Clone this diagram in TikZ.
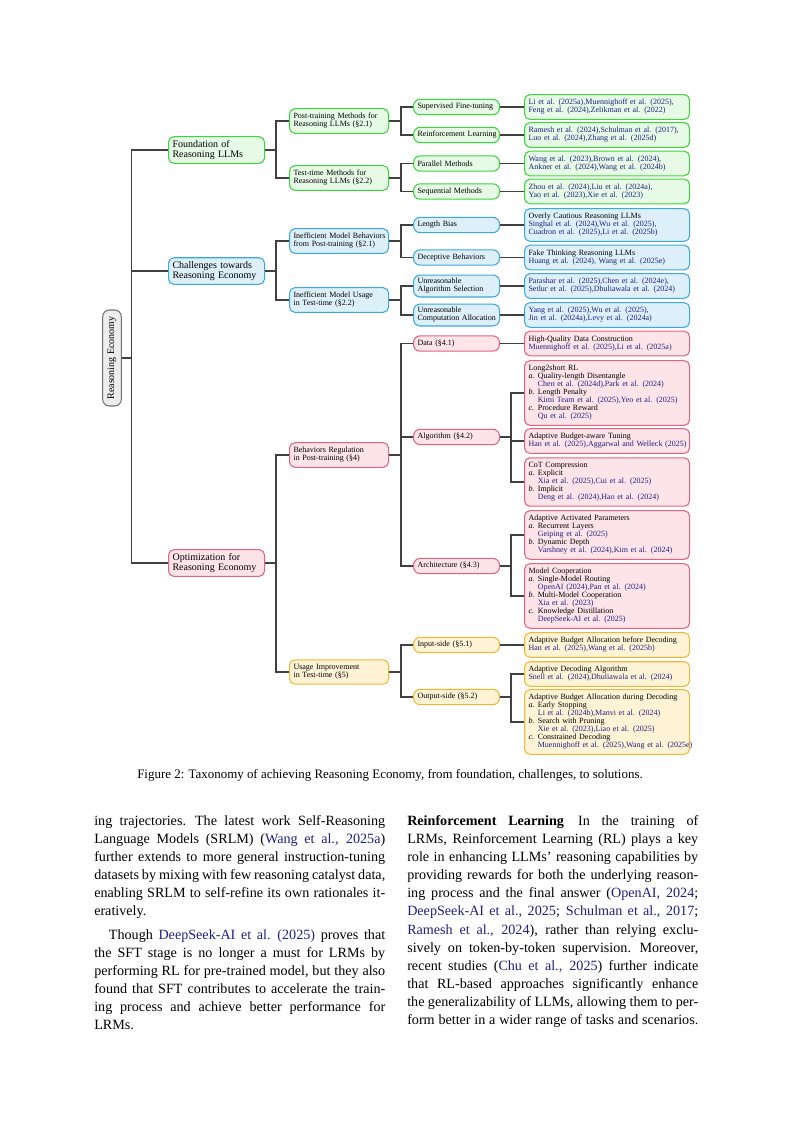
\documentclass[tikz,border=0pt]{standalone}
\usepackage{fontspec}
\setmainfont{Liberation Serif}

\definecolor{grnline}{HTML}{3CD63C}
\definecolor{grnfill}{HTML}{E6FAE6}
\definecolor{bluline}{HTML}{3BA9DE}
\definecolor{blufill}{HTML}{DDF0FA}
\definecolor{redline}{HTML}{E2637F}
\definecolor{redfill}{HTML}{FDE4E9}
\definecolor{ylwline}{HTML}{F2B632}
\definecolor{ylwfill}{HTML}{FFF3D6}
\definecolor{rootline}{HTML}{707070}
\definecolor{rootfill}{HTML}{EDEDED}
\definecolor{linkgray}{HTML}{404040}
\definecolor{citeblue}{HTML}{1F1F80}

\newcommand{\refc}[1]{\textcolor{citeblue}{#1}}
\newcommand{\subit}[2]{\makebox[7pt][l]{\textit{#1.}}#2}
\newcommand{\subin}{\hspace*{7pt}}
\newlength{\colw}\setlength{\colw}{218.25pt}
% justified line of body text (node align=left fixes the spaces, so reset them here)
\newcommand{\jline}[1]{\makebox[\colw][s]{\spaceskip=0.25em plus 0.2em minus 0.12em\xspaceskip=0.3em plus 0.25em minus 0.1em #1}}

\begin{document}
\begin{tikzpicture}[x=0.75pt, y=-0.75pt,
    box/.style={draw, rounded corners=4pt, line width=0.8pt, anchor=west, inner xsep=3pt, align=left},
    lvlone/.style={box, text width=66pt, inner ysep=2.8pt, font=\fontsize{7.5}{7.5}\selectfont},
    lvltwo/.style={box, text width=68.25pt, inner ysep=3.5pt, font=\fontsize{6}{6}\selectfont},
    lvlthree/.style={box, rounded corners=5pt, text width=58.5pt, inner ysep=2.5pt, minimum height=11.5pt, font=\fontsize{6}{6}\selectfont},
    leaf/.style={box, text width=117.75pt, inner ysep=3.5pt, font=\fontsize{6}{6}\selectfont},
    grn/.style={draw=grnline, fill=grnfill},
    blu/.style={draw=bluline, fill=blufill},
    red/.style={draw=redline, fill=redfill},
    ylw/.style={draw=ylwline, fill=ylwfill},
    link/.style={draw=linkgray, line width=0.9pt},
    para/.style={anchor=north west, inner sep=0pt, align=left, text width=\colw, font=\fontsize{10.6}{13.6}\selectfont},
]
    \path[fill=white, use as bounding box] (0,0) rectangle (793,1122);

    % root
    \node[draw=rootline, fill=rootfill, line width=0.8pt, rotate=90, rounded corners=5pt,
          minimum width=72pt, minimum height=14pt, inner sep=0pt,
          font=\fontsize{7.5}{7.5}\selectfont] (root) at (112,358) {Reasoning Economy};

    % first level
    \node[lvlone, grn] (found) at (168,150) {Foundation of\\Reasoning LLMs};
    \node[lvlone, blu] (chall) at (168,271) {Challenges towards\\Reasoning Economy};
    \node[lvlone, red] (optim) at (168,563) {Optimization for\\Reasoning Economy};

    % second level
    \node[lvltwo, grn] (post) at (289,121) {Post-training Methods for\\Reasoning LLMs (\S2.1)};
    \node[lvltwo, grn] (test) at (289,178) {Test-time Methods for\\Reasoning LLMs (\S2.2)};
    \node[lvltwo, blu] (ineffb) at (289,241) {\mbox{Inefficient Model Behaviors}\\from Post-training (\S2.1)};
    \node[lvltwo, blu] (ineffu) at (289,300) {Inefficient Model Usage\\in Test-time (\S2.2)};
    \node[lvltwo, red] (behav) at (289,455) {Behaviors Regulation\\in Post-training (\S4)};
    \node[lvltwo, ylw] (usage) at (289,672) {Usage Improvement\\in Test-time (\S5)};

    % third level
    \node[lvlthree, grn] (sft) at (413,107) {Supervised Fine-tuning};
    \node[lvlthree, grn] (rl) at (413,135) {\mbox{Reinforcement Learning}};
    \node[lvlthree, grn] (par) at (413,163.5) {Parallel Methods};
    \node[lvlthree, grn] (seq) at (413,191.5) {Sequential Methods};
    \node[lvlthree, blu] (lenb) at (413,225) {Length Bias};
    \node[lvlthree, blu] (decep) at (413,257.5) {Deceptive Behaviors};
    \node[lvlthree, blu] (algsel) at (413,286) {Unreasonable\\Algorithm Selection};
    \node[lvlthree, blu] (comp) at (413,315) {Unreasonable\\\mbox{Computation Allocation}};
    \node[lvlthree, red] (data) at (413,343.5) {Data (\S4.1)};
    \node[lvlthree, red] (algo) at (413,437) {Algorithm (\S4.2)};
    \node[lvlthree, red] (arch) at (413,566) {Architecture (\S4.3)};
    \node[lvlthree, ylw] (input) at (413,645) {Input-side (\S5.1)};
    \node[lvlthree, ylw] (output) at (413,697) {Output-side (\S5.2)};

    % leaves
    \node[leaf, grn] (lsft) at (524,107) {\refc{Li et al. (2025a),Muennighoff et al. (2025),}\\\refc{Feng et al. (2024),Zelikman et al. (2022)}};
    \node[leaf, grn] (lrl) at (524,135) {\refc{Ramesh et al. (2024),Schulman et al. (2017),}\\\refc{Luo et al. (2024),Zhang et al. (2025d)}};
    \node[leaf, grn] (lpar) at (524,163.5) {\refc{Wang et al. (2023),Brown et al. (2024),}\\\refc{Ankner et al. (2024),Wang et al. (2024b)}};
    \node[leaf, grn] (lseq) at (524,191.5) {\refc{Zhou et al. (2024),Liu et al. (2024a),}\\\refc{Yao et al. (2023),Xie et al. (2023)}};
    \node[leaf, blu] (llenb) at (524,225) {Overly Cautious Reasoning LLMs\\\refc{Singhal et al. (2024),Wu et al. (2025),}\\\refc{Cuadron et al. (2025),Li et al. (2025b)}};
    \node[leaf, blu] (ldecep) at (524,257.5) {Fake Thinking Reasoning LLMs\\\refc{Huang et al. (2024), Wang et al. (2025e)}};
    \node[leaf, blu] (lalgsel) at (524,286) {\refc{Parashar et al. (2025),Chen et al. (2024e),}\\\refc{Setlur et al. (2025),Dhuliawala et al. (2024)}};
    \node[leaf, blu] (lcomp) at (524,315) {\refc{Yang et al. (2025),Wu et al. (2025),}\\\refc{Jin et al. (2024a),Levy et al. (2024a)}};
    \node[leaf, red] (ldata) at (524,343.5) {High-Quality Data Construction\\\refc{Muennighoff et al. (2025),Li et al. (2025a)}};
    \node[leaf, red] (llong) at (524,393) {Long2short RL\\\subit{a}{Quality-length Disentangle}\\\subin\refc{Chen et al. (2024d),Park et al. (2024)}\\\subit{b}{Length Penalty}\\\subin\refc{Kimi Team et al. (2025),Yeo et al. (2025)}\\\subit{c}{Procedure Reward}\\\subin\refc{Qu et al. (2025)}};
    \node[leaf, red] (lbudget) at (524,441) {Adaptive Budget-aware Tuning\\\mbox{\refc{Han et al. (2025),Aggarwal and Welleck (2025)}}};
    \node[leaf, red] (lcot) at (524,482) {CoT Compression\\\subit{a}{Explicit}\\\subin\refc{Xia et al. (2025),Cui et al. (2025)}\\\subit{b}{Implicit}\\\subin\refc{Deng et al. (2024),Hao et al. (2024)}};
    \node[leaf, red] (lact) at (524,535) {Adaptive Activated Parameters\\\subit{a}{Recurrent Layers}\\\subin\refc{Geiping et al. (2025)}\\\subit{b}{Dynamic Depth}\\\subin\refc{Varshney et al. (2024),Kim et al. (2024)}};
    \node[leaf, red] (lcoop) at (524,596) {Model Cooperation\\\subit{a}{Single-Model Routing}\\\subin\refc{OpenAI (2024),Pan et al. (2024)}\\\subit{b}{Multi-Model Cooperation}\\\subin\refc{Xia et al. (2023)}\\\subit{c}{Knowledge Distillation}\\\subin\refc{DeepSeek-AI et al. (2025)}};
    \node[leaf, ylw] (linput) at (524,645) {\mbox{Adaptive Budget Allocation before Decoding}\\\refc{Han et al. (2025),Wang et al. (2025b)}};
    \node[leaf, ylw] (ldec) at (524,674) {Adaptive Decoding Algorithm\\\refc{Snell et al. (2024),Dhuliawala et al. (2024)}};
    \node[leaf, ylw] (lbudd) at (524,722) {\mbox{Adaptive Budget Allocation during Decoding}\\\subit{a}{Early Stopping}\\\subin\refc{Li et al. (2024b),Manvi et al. (2024)}\\\subit{b}{Search with Pruning}\\\subin\refc{Xie et al. (2023),Liao et al. (2025)}\\\subit{c}{Constrained Decoding}\\\mbox{\subin\refc{Muennighoff et al. (2025),Wang et al. (2025e)}}};

    % connectors
    \foreach \c in {found, chall, optim}
        \draw[link] (root.south) -- ++(10,0) |- (\c.west);
    \foreach \p/\c in {found/post, found/test, chall/ineffb, chall/ineffu, optim/behav, optim/usage}
        \draw[link] (\p.east) -- ++(11,0) |- (\c.west);
    \foreach \p/\c in {post/sft, post/rl, test/par, test/seq, ineffb/lenb, ineffb/decep,
                       ineffu/algsel, ineffu/comp, behav/data, behav/algo, behav/arch,
                       usage/input, usage/output}
        \draw[link] (\p.east) -- ++(12,0) |- (\c.west);
    \foreach \p/\c in {sft/lsft, rl/lrl, par/lpar, seq/lseq, lenb/llenb, decep/ldecep,
                       algsel/lalgsel, comp/lcomp, data/ldata, algo/llong, algo/lbudget,
                       algo/lcot, arch/lact, arch/lcoop, input/linput, output/ldec, output/lbudd}
        \draw[link] (\p.east) -- ++(11,0) |- (\c.west);

    % caption
    \node[anchor=base, inner sep=0pt, font=\fontsize{9.7}{12}\selectfont] (caption) at (390,778)
        {Figure 2: Taxonomy of achieving Reasoning Economy, from foundation, challenges, to solutions.};

    % body text
    \node[para] (lefta) at (94,812.3) {\strut\jline{ing trajectories. The latest work Self-Reasoning}\\
        \jline{Language Models (SRLM) (\refc{Wang et al., 2025a})}\\
        \jline{further extends to more general instruction-tuning}\\
        \jline{datasets by mixing with few reasoning catalyst data,}\\
        \jline{enabling SRLM to self-refine its own rationales it-}\\
        eratively.};
    \node[para] (leftb) at (94,926.3) {\strut\jline{\hspace*{11pt}Though \refc{DeepSeek-AI et al. (2025)} proves that}\\
        \jline{the SFT stage is no longer a must for LRMs by}\\
        \jline{performing RL for pre-trained model, but they also}\\
        \jline{found that SFT contributes to accelerate the train-}\\
        \jline{ing process and achieve better performance for}\\
        LRMs.};
    \node[para] (right) at (407,812.3) {\strut\jline{\textbf{Reinforcement Learning}\hspace{1em}In the training of}\\
        \jline{LRMs, Reinforcement Learning (RL) plays a key}\\
        \jline{role in enhancing LLMs' reasoning capabilities by}\\
        \jline{providing rewards for both the underlying reason-}\\
        \jline{ing process and the final answer (\refc{OpenAI, 2024};}\\
        \jline{\refc{DeepSeek-AI et al., 2025}; \refc{Schulman et al., 2017};}\\
        \jline{\refc{Ramesh et al., 2024}), rather than relying exclu-}\\
        \jline{sively on token-by-token supervision. Moreover,}\\
        \jline{recent studies (\refc{Chu et al., 2025}) further indicate}\\
        \jline{that RL-based approaches significantly enhance}\\
        \jline{the generalizability of LLMs, allowing them to per-}\\
        \jline{form better in a wider range of tasks and scenarios.}};
\end{tikzpicture}
\end{document}
